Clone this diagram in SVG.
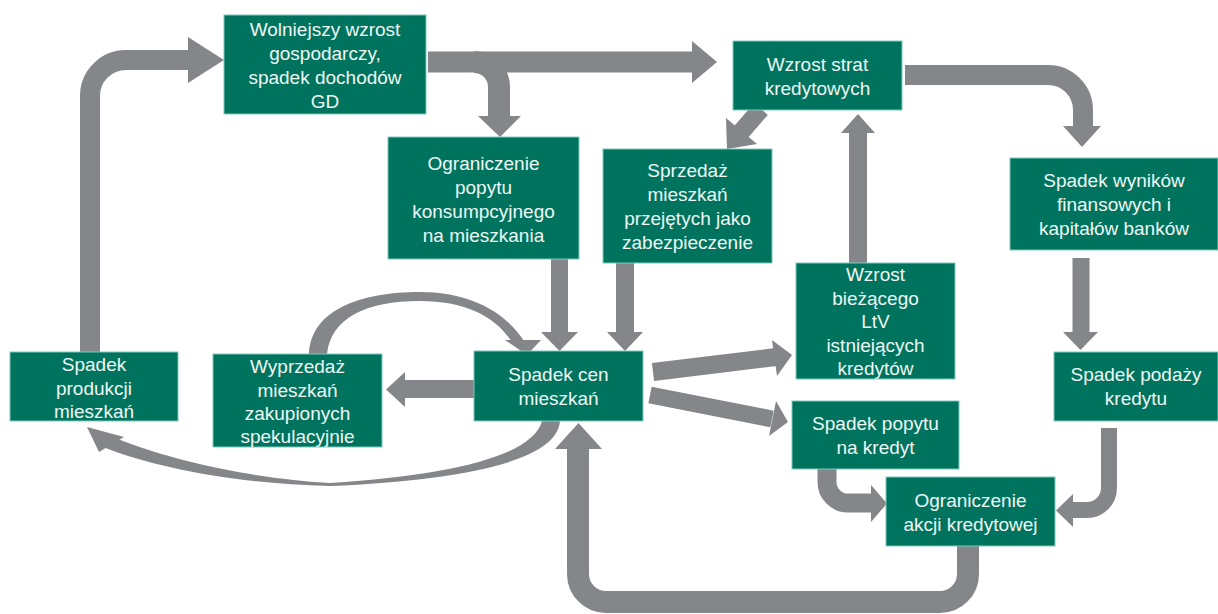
<svg xmlns="http://www.w3.org/2000/svg" width="1218" height="614" viewBox="0 0 1218 614">
<style>
.box{fill:#00735f;stroke:#7cc9bb;stroke-width:1}
.t{font-family:"Liberation Sans",Arial,sans-serif;font-size:19px;fill:#eef7f4;text-anchor:middle}
.sh{fill:none;stroke:#858689;stroke-linejoin:round}
.hd{fill:#858689}
</style>
<rect width="1218" height="614" fill="#ffffff"/>
<g id="connectors">
  <!-- Spadek produkcji -> Wolniejszy -->
  <path class="sh" stroke-width="20" d="M90 352 V96 A36 36 0 0 1 126 60 H190"/>
  <polygon class="hd" points="188,37 224,60 188,83"/>
  <!-- Wolniejszy -> Wzrost strat -->
  <path class="sh" stroke-width="21" d="M428 62 H695"/>
  <polygon class="hd" points="692,41 717,62 692,83"/>
  <!-- branch -> Ograniczenie popytu -->
  <path class="sh" stroke-width="22" d="M474 62 A25 25 0 0 1 499 87 V118"/>
  <polygon class="hd" points="478,116 521,116 500,137"/>
  <!-- Wzrost strat -> Sprzedaż -->
  <path class="sh" stroke-width="18" d="M761 109 L741 132"/>
  <polygon class="hd" points="726,118 757,144 727,149"/>
  <!-- Ograniczenie popytu -> Spadek cen -->
  <path class="sh" stroke-width="17" d="M559.5 259 V334"/>
  <polygon class="hd" points="541,332 578,332 559.5,351"/>
  <!-- Sprzedaż -> Spadek cen -->
  <path class="sh" stroke-width="18" d="M625 263 V334"/>
  <polygon class="hd" points="607,332 643,332 625,351"/>
  <!-- Wyprzedaż loop -> Spadek cen -->
  <path class="hd" d="M309 354 C311 310 360 292 420 292 C470 292 505 312 524 341 L512 342 C495 316 465 301 420 301 C366 301 331 318 327 354 Z"/>
  <polygon class="hd" points="505,340 541,340 527,355"/>
  <!-- Spadek cen -> Wyprzedaż -->
  <path class="sh" stroke-width="18" d="M474 389 H403"/>
  <polygon class="hd" points="405,372 405,407 386,389.5"/>
  <!-- Spadek cen -> Spadek produkcji -->
  <path class="hd" d="M560 421 C557 462 460 480 330 486 C240 484 155 468 103 447 L118 439 C165 458 245 478 330 483 C455 475 533 455 542 421 Z"/>
  <polygon class="hd" points="87,427 124,437 99,452"/>
  <!-- Spadek cen -> LtV -->
  <path class="sh" stroke-width="18" d="M653 372 L776 357"/>
  <polygon class="hd" points="772,340 777,376 792,355"/>
  <!-- Spadek cen -> Spadek popytu -->
  <path class="sh" stroke-width="17" d="M650 395 L772 419"/>
  <polygon class="hd" points="776,401 769,436 788,422"/>
  <!-- LtV -> Wzrost strat -->
  <path class="sh" stroke-width="18" d="M858 263 V130"/>
  <polygon class="hd" points="841,133 875,133 858,114"/>
  <!-- Wzrost strat -> Spadek wyników -->
  <path class="sh" stroke-width="20" d="M905 75 H1048 A35 35 0 0 1 1083 110 V128"/>
  <polygon class="hd" points="1063,126 1101,126 1082,147"/>
  <!-- Spadek wyników -> Spadek podaży -->
  <path class="sh" stroke-width="17" d="M1081 258 V334"/>
  <polygon class="hd" points="1063,332 1098,332 1080.5,350"/>
  <!-- Spadek podaży -> Ograniczenie akcji -->
  <path class="sh" stroke-width="16" d="M1109 428 V488 A22 22 0 0 1 1087 510 H1071"/>
  <polygon class="hd" points="1073,494 1073,527 1056,510.5"/>
  <!-- Spadek popytu -> Ograniczenie akcji -->
  <path class="sh" stroke-width="19" d="M827 468 V482 A21 21 0 0 0 848 503 H873"/>
  <polygon class="hd" points="871,485 871,522 887,503.5"/>
  <!-- Ograniczenie akcji -> Spadek cen -->
  <path class="sh" stroke-width="22" d="M968 545 V574 A28 28 0 0 1 940 602 H606 A28 28 0 0 1 578 574 V446"/>
  <polygon class="hd" points="555,449 602,449 578.5,423"/>
</g>
<g id="n-wolniejszy">
  <rect class="box" x="224" y="15" width="202" height="99"/>
  <text class="t" x="325" y="36">Wolniejszy wzrost</text>
  <text class="t" x="325" y="60">gospodarczy,</text>
  <text class="t" x="325" y="84">spadek dochodów</text>
  <text class="t" x="325" y="108">GD</text>
</g>
<g id="n-wzrost-strat">
  <rect class="box" x="733" y="41" width="169" height="69"/>
  <text class="t" x="817.5" y="71">Wzrost strat</text>
  <text class="t" x="817.5" y="95">kredytowych</text>
</g>
<g id="n-ograniczenie-popytu">
  <rect class="box" x="388" y="137" width="191" height="122"/>
  <text class="t" x="483.5" y="170">Ograniczenie</text>
  <text class="t" x="483.5" y="194">popytu</text>
  <text class="t" x="483.5" y="218">konsumpcyjnego</text>
  <text class="t" x="483.5" y="242">na mieszkania</text>
</g>
<g id="n-sprzedaz">
  <rect class="box" x="603" y="149" width="169" height="114"/>
  <text class="t" x="687.5" y="177">Sprzedaż</text>
  <text class="t" x="687.5" y="201">mieszkań</text>
  <text class="t" x="687.5" y="225">przejętych jako</text>
  <text class="t" x="687.5" y="249">zabezpieczenie</text>
</g>
<g id="n-spadek-wynikow">
  <rect class="box" x="1010" y="158" width="208" height="92"/>
  <text class="t" x="1114" y="187">Spadek wyników</text>
  <text class="t" x="1114" y="211">finansowych i</text>
  <text class="t" x="1114" y="235">kapitałów banków</text>
</g>
<g id="n-ltv">
  <rect class="box" x="796" y="263" width="159" height="116"/>
  <text class="t" x="875.5" y="281">Wzrost</text>
  <text class="t" x="875.5" y="304.5">bieżącego</text>
  <text class="t" x="875.5" y="328">LtV</text>
  <text class="t" x="875.5" y="351.5">istniejących</text>
  <text class="t" x="875.5" y="375">kredytów</text>
</g>
<g id="n-spadek-podazy">
  <rect class="box" x="1054" y="352" width="164" height="69"/>
  <text class="t" x="1136" y="381">Spadek podaży</text>
  <text class="t" x="1136" y="405">kredytu</text>
</g>
<g id="n-spadek-cen">
  <rect class="box" x="474" y="351" width="169" height="70"/>
  <text class="t" x="558.5" y="381">Spadek cen</text>
  <text class="t" x="558.5" y="405">mieszkań</text>
</g>
<g id="n-spadek-popytu">
  <rect class="box" x="792" y="401" width="167" height="68"/>
  <text class="t" x="875.5" y="430">Spadek popytu</text>
  <text class="t" x="875.5" y="454">na kredyt</text>
</g>
<g id="n-ograniczenie-akcji">
  <rect class="box" x="886" y="477" width="169" height="69"/>
  <text class="t" x="970.5" y="507">Ograniczenie</text>
  <text class="t" x="970.5" y="531">akcji kredytowej</text>
</g>
<g id="n-spadek-produkcji">
  <rect class="box" x="10" y="352" width="168" height="69"/>
  <text class="t" x="94" y="371">Spadek</text>
  <text class="t" x="94" y="394.5">produkcji</text>
  <text class="t" x="94" y="418">mieszkań</text>
</g>
<g id="n-wyprzedaz">
  <rect class="box" x="213" y="354" width="169" height="93"/>
  <text class="t" x="297.5" y="373">Wyprzedaż</text>
  <text class="t" x="297.5" y="396.5">mieszkań</text>
  <text class="t" x="297.5" y="420">zakupionych</text>
  <text class="t" x="297.5" y="443">spekulacyjnie</text>
</g>
</svg>
